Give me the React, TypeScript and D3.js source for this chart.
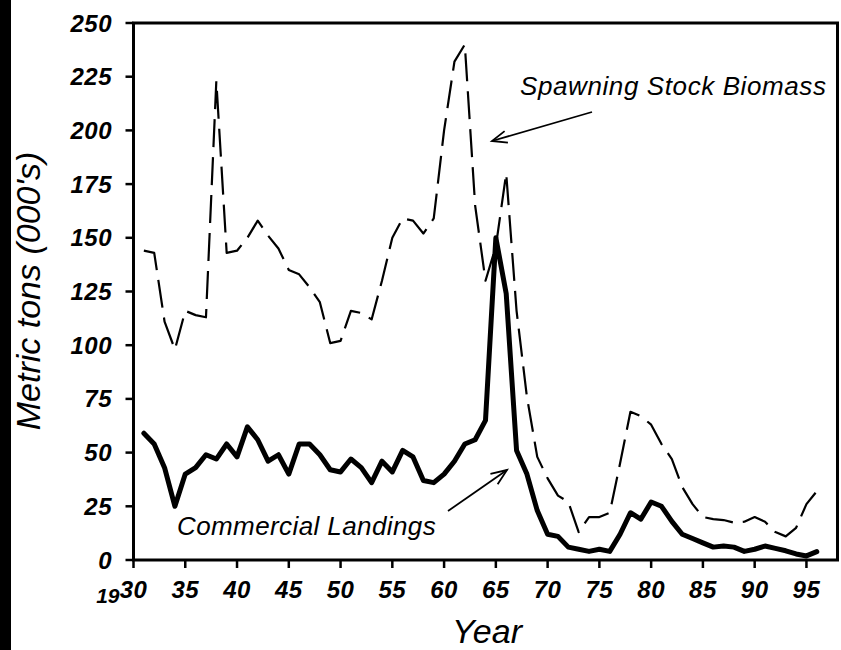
import React from 'react';
import * as d3 from 'd3';

const years = [
  1931, 1932, 1933, 1934, 1935, 1936, 1937, 1938, 1939, 1940,
  1941, 1942, 1943, 1944, 1945, 1946, 1947, 1948, 1949, 1950,
  1951, 1952, 1953, 1954, 1955, 1956, 1957, 1958, 1959, 1960,
  1961, 1962, 1963, 1964, 1965, 1966, 1967, 1968, 1969, 1970,
  1971, 1972, 1973, 1974, 1975, 1976, 1977, 1978, 1979, 1980,
  1981, 1982, 1983, 1984, 1985, 1986, 1987, 1988, 1989, 1990,
  1991, 1992, 1993, 1994, 1995, 1996,
];

const commercialLandings = [
  59, 54, 43, 25, 40, 43, 49, 47, 54, 48,
  62, 56, 46, 49, 40, 54, 54, 49, 42, 41,
  47, 43, 36, 46, 41, 51, 48, 37, 36, 40,
  46, 54, 56, 65, 150, 124, 51, 40, 23, 12,
  11, 6, 5, 4, 5, 4, 12, 22, 19, 27,
  25, 18, 12, 10, 8, 6, 6.5, 6, 4, 5,
  6.5, 5.4, 4.3, 2.8, 1.9, 3.9,
];

const spawningStockBiomass = [
  144, 143, 111, 98, 116, 114, 113, 223, 143, 144,
  150, 158, 151, 145, 135, 133, 127, 120, 101, 102,
  116, 115, 112, 130, 150, 159, 158, 152, 159, 200,
  232, 240, 165, 130, 146, 180, 116, 76, 48, 38,
  30, 27, 13, 20, 20, 22, 45, 69, 67, 63,
  54, 47, 34, 26, 20, 19, 18.6, 17.4, 17.8, 20,
  17.8, 13, 11, 15, 26, 32,
];

const yTicks = [0, 25, 50, 75, 100, 125, 150, 175, 200, 225, 250];
const xTicks = [1930, 1935, 1940, 1945, 1950, 1955, 1960, 1965, 1970, 1975, 1980, 1985, 1990, 1995];
const xTickLabels = ['30', '35', '40', '45', '50', '55', '60', '65', '70', '75', '80', '85', '90', '95'];
const xCenturyLabel = '19';

const W = 841;
const H = 650;
const FONT = "'Liberation Sans', Arial, Helvetica, sans-serif";

function arrowHead(tipX: number, tipY: number, fromX: number, fromY: number, len: number, ang: number) {
  const a = Math.atan2(fromY - tipY, fromX - tipX);
  const p1 = [tipX + len * Math.cos(a + ang), tipY + len * Math.sin(a + ang)];
  const p2 = [tipX + len * Math.cos(a - ang), tipY + len * Math.sin(a - ang)];
  return `M${p1[0]},${p1[1]}L${tipX},${tipY}L${p2[0]},${p2[1]}`;
}

export default function App() {
  const x = d3.scaleLinear().domain([1930, 1998]).range([133.5, 837.5]);
  const y = d3.scaleLinear().domain([0, 250]).range([560, 23]);

  const landPts: [number, number][] = years.map((yr, i) => [yr, commercialLandings[i]]);
  const ssbPts: [number, number][] = years.map((yr, i) => [yr, spawningStockBiomass[i]]);

  const line = d3
    .line<[number, number]>()
    .x((d) => x(d[0]))
    .y((d) => y(d[1]))
    .curve(d3.curveLinear);

  const ssbArrow = { x1: 592, y1: 112, x2: 492, y2: 141 };
  const clArrow = { x1: 448, y1: 511, x2: 507, y2: 470 };

  return (
    <svg
      width={W}
      height={H}
      viewBox={`0 0 ${W} ${H}`}
      style={{ position: 'absolute', left: 0, top: 0, background: '#fff' }}
      fontFamily={FONT}
    >
      <rect x={0} y={0} width={W} height={H} fill="#fff" />
      {/* black band at left edge */}
      <rect x={0} y={0} width={11} height={H} fill="#000" />

      {/* data lines */}
      <path
        d={line(ssbPts) || ''}
        fill="none"
        stroke="#000"
        strokeWidth={2.2}
        strokeDasharray="28 10"
        strokeLinejoin="round"
      />
      <path
        d={line(landPts) || ''}
        fill="none"
        stroke="#000"
        strokeWidth={5}
        strokeLinejoin="round"
        strokeLinecap="round"
      />

      {/* frame */}
      <rect
        x={x(1930)}
        y={y(250)}
        width={x(1998) - x(1930)}
        height={y(0) - y(250)}
        fill="none"
        stroke="#000"
        strokeWidth={3}
      />

      {/* y ticks */}
      {yTicks.map((t) => (
        <g key={'y' + t}>
          <line x1={x(1930) - 8} x2={x(1930)} y1={y(t)} y2={y(t)} stroke="#000" strokeWidth={2.5} />
          <text
            x={112}
            y={y(t) + 8.5}
            textAnchor="end"
            fontSize={24}
            fontStyle="italic"
            fontWeight="bold"
            letterSpacing={0.5}
          >
            {t}
          </text>
        </g>
      ))}

      {/* x ticks */}
      {xTicks.map((t, i) => (
        <g key={'x' + t}>
          <line x1={x(t)} x2={x(t)} y1={y(0)} y2={y(0) + 8} stroke="#000" strokeWidth={2.5} />
          <text
            x={x(t)}
            y={598}
            textAnchor="middle"
            fontSize={24}
            fontStyle="italic"
            fontWeight="bold"
            letterSpacing={0.5}
          >
            {xTickLabels[i]}
          </text>
        </g>
      ))}
      <text x={x(1930) - 14} y={603} textAnchor="end" fontSize={21} fontStyle="italic" fontWeight="bold">
        {xCenturyLabel}
      </text>

      {/* axis titles */}
      <text x={487} y={643} textAnchor="middle" fontSize={34} fontStyle="italic">
        Year
      </text>
      <text
        transform={`translate(40,291) rotate(-90)`}
        textAnchor="middle"
        fontSize={34}
        fontStyle="italic"
      >
        Metric tons (000's)
      </text>

      {/* annotations */}
      <text x={520} y={95} fontSize={26} fontStyle="italic" letterSpacing={0.6}>
        Spawning Stock Biomass
      </text>
      <line x1={ssbArrow.x1} y1={ssbArrow.y1} x2={ssbArrow.x2} y2={ssbArrow.y2} stroke="#000" strokeWidth={1.8} />
      <path
        d={arrowHead(ssbArrow.x2, ssbArrow.y2, ssbArrow.x1, ssbArrow.y1, 16, 0.38)}
        fill="none"
        stroke="#000"
        strokeWidth={1.8}
      />

      <text x={177} y={535} fontSize={26} fontStyle="italic" letterSpacing={0.4}>
        Commercial Landings
      </text>
      <line x1={clArrow.x1} y1={clArrow.y1} x2={clArrow.x2} y2={clArrow.y2} stroke="#000" strokeWidth={1.8} />
      <path
        d={arrowHead(clArrow.x2, clArrow.y2, clArrow.x1, clArrow.y1, 17, 0.38)}
        fill="none"
        stroke="#000"
        strokeWidth={1.8}
      />
    </svg>
  );
}
